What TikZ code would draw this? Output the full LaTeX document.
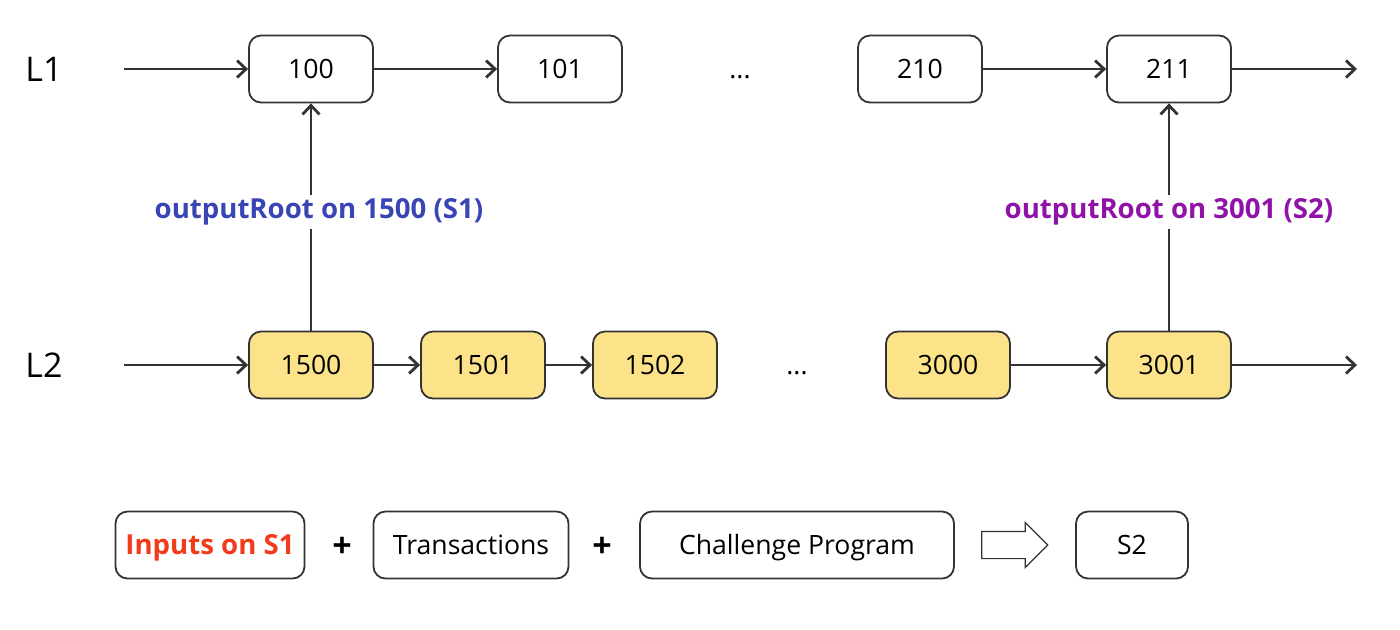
\documentclass[tikz,border=0pt]{standalone}
\usepackage{fontspec}
\setmainfont{Open Sans}
\usetikzlibrary{shapes.arrows,arrows.meta}

\definecolor{blockfill}{HTML}{FCE38A}
\definecolor{linegray}{HTML}{333333}
\definecolor{rootblue}{HTML}{3A45B5}
\definecolor{rootpurple}{HTML}{9013A8}
\definecolor{inputred}{HTML}{F23B1B}

\begin{document}
\begin{tikzpicture}[x=0.5pt,y=-0.5pt,
  line width=1pt,draw=linegray,
  main node/.style={rectangle,rounded corners=6pt,draw=linegray,fill=white,line width=0.9pt,
    font=\fontsize{13.3}{15}\selectfont,text height=9.5pt,text depth=0pt,
    minimum width=62pt,minimum height=33.5pt},
  l2 node/.style={main node,fill=blockfill},
  layer label/.style={font=\fontsize{17}{19}\selectfont},
  dots/.style={font=\fontsize{13.3}{15}\selectfont,text height=9.5pt,text depth=0pt},
  root label/.style={fill=white,inner sep=2pt,font=\fontsize{13.8}{16}\selectfont\bfseries},
  every edge/.style={draw=linegray,line width=1.4pt,-{Straight Barb[length=4.5pt,width=8.5pt,line width=1.4pt]}}]

  \useasboundingbox (0,0) rectangle (1400,629);

  % layer 1
  \node[layer label] (L1) at (44,69) {L1};
  \coordinate (in1) at (124,69);
  \node[main node] (100) at (311,69) {100};
  \node[main node] (101) at (560,69) {101};
  \node[dots] (dots1) at (740,69) {...};
  \node[main node] (210) at (920,69) {210};
  \node[main node] (211) at (1169,69) {211};
  \coordinate (out1) at (1357,69);

  % layer 2
  \node[layer label] (L2) at (44,365) {L2};
  \coordinate (in2) at (124,365);
  \node[l2 node] (1500) at (311,365) {1500};
  \node[l2 node] (1501) at (483,365) {1501};
  \node[l2 node] (1502) at (655,365) {1502};
  \node[dots] (dots2) at (797,365) {...};
  \node[l2 node] (3000) at (948,365) {3000};
  \node[l2 node] (3001) at (1169,365) {3001};
  \coordinate (out2) at (1357,365);

  \path
   (in1) edge (100)
   (100) edge (101)
   (210) edge (211)
   (211) edge (out1)
   (in2) edge (1500)
   (1500) edge (1501)
   (1501) edge (1502)
   (3000) edge (3001)
   (3001) edge (out2)
   (1500) edge (100)
   (3001) edge (211);

  \node[root label,text=rootblue] (root1) at (319,212) {outputRoot on 1500 (S1)};
  \node[root label,text=rootpurple] (root2) at (1169,212) {outputRoot on 3001 (S2)};

  % challenge
  \node[main node,minimum width=94.5pt,text=inputred,font=\fontsize{13.8}{16}\selectfont\bfseries] (inputs) at (210,545) {Inputs on S1};
  \node (plus1) at (342,547) {\fontsize{17}{19}\selectfont\bfseries +};
  \node[main node,minimum width=97.5pt] (txs) at (471,545) {Transactions};
  \node (plus2) at (602,547) {\fontsize{17}{19}\selectfont\bfseries +};
  \node[main node,minimum width=157pt] (prog) at (797,545) {Challenge Program};
  \node[single arrow,draw=linegray,line width=0.6pt,inner xsep=0pt,inner ysep=6.5pt,
    minimum height=33pt,single arrow head extend=4.5pt] (impl) at (1008,545) {};
  \node[main node,minimum width=56pt] (s2) at (1132,545) {S2};

\end{tikzpicture}
\end{document}
